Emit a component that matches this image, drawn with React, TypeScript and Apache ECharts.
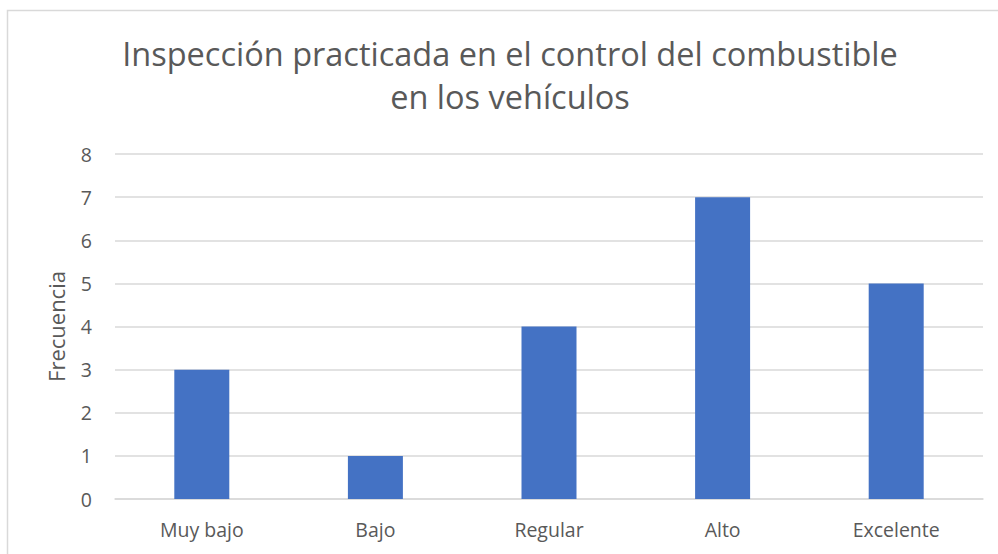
import React, { useEffect, useRef } from "react";
import * as echarts from "echarts";

const titleLines = ["Inspección practicada en el control del combustible", "en los vehículos"];
const categories = ["Muy bajo", "Bajo", "Regular", "Alto", "Excelente"];
const values = [3, 1, 4, 7, 5];
const yAxisName = "Frecuencia";

export default function App() {
  const ref = useRef<HTMLDivElement>(null);
  useEffect(() => {
    document.body.style.margin = "0";
    const chart = echarts.init(ref.current!, null, { renderer: "svg" });
    const font = "'Open Sans', 'Noto Sans', sans-serif";
    chart.setOption({
      animation: false,
      backgroundColor: "#ffffff",
      textStyle: { fontFamily: font },
      graphic: [
        {
          type: "rect",
          shape: { x: 7.5, y: 10.5, width: 1000, height: 560 },
          style: { fill: "none", stroke: "#d9d9d9", lineWidth: 1.5 },
          silent: true,
        },
        ...titleLines.map((t, i) => ({
          type: "text",
          x: 510,
          y: 53.5 + i * 43,
          silent: true,
          style: {
            text: t,
            fill: "#595959",
            fontSize: 32.5,
            fontFamily: font,
            align: "center",
            verticalAlign: "middle",
          },
        })),
      ],
      grid: { left: 115, right: 15, top: 154, bottom: 55, containLabel: false },
      xAxis: {
        type: "category",
        data: categories,
        axisLine: { show: true, lineStyle: { color: "#d9d9d9", width: 1.5 } },
        axisTick: { show: false },
        axisLabel: { color: "#595959", fontSize: 19.5, margin: 20, fontFamily: font },
      },
      yAxis: {
        type: "value",
        min: 0,
        max: 8,
        interval: 1,
        name: yAxisName,
        nameLocation: "middle",
        nameGap: 48,
        nameTextStyle: { color: "#595959", fontSize: 22, fontFamily: font },
        axisLine: { show: false },
        axisTick: { show: false },
        axisLabel: { color: "#595959", fontSize: 19.5, margin: 23, fontFamily: font },
        splitLine: { lineStyle: { color: "#d9d9d9", width: 1.5 } },
      },
      series: [
        {
          type: "bar",
          data: values,
          barWidth: 55,
          itemStyle: { color: "#4472c4" },
        },
      ],
    });
    return () => chart.dispose();
  }, []);
  return <div ref={ref} style={{ width: 998, height: 554 }} />;
}
